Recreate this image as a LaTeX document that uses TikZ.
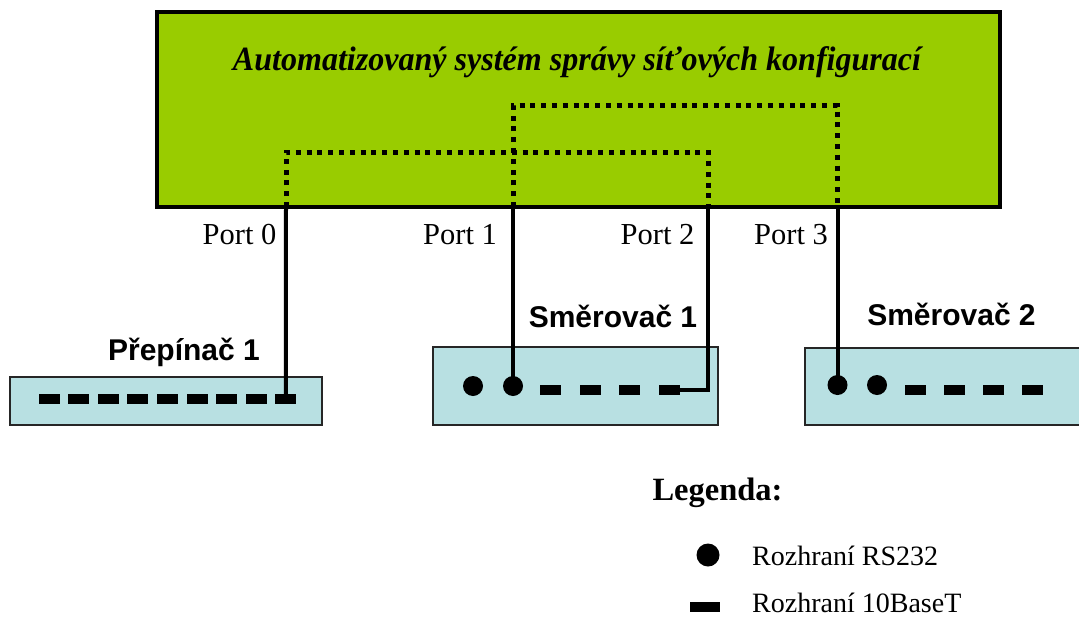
\documentclass[tikz,border=0pt]{standalone}
\usepackage{fontspec}
\usepackage{graphicx}
\setmainfont{Liberation Serif}
\newfontfamily\labelsans{Liberation Sans}
\definecolor{sysgreen}{RGB}{153,204,0}
\definecolor{devblue}{RGB}{184,224,226}
\tikzset{
  sysbox/.style={draw=black, line width=3.5pt, fill=sysgreen, rectangle, inner sep=0pt},
  devbox/.style={draw=black!85, line width=1.5pt, fill=devblue, rectangle, inner sep=0pt},
  eth/.style={fill=black, rectangle, inner sep=0pt, minimum width=21pt, minimum height=10pt},
  rs/.style={fill=black, circle, inner sep=0pt, minimum size=20pt},
  wire/.style={line width=4pt},
  link/.style={line width=5pt, dash pattern=on 5pt off 5.8pt},
  portlbl/.style={font=\fontsize{30.5}{34}\selectfont, anchor=base, inner sep=0pt},
  devlbl/.style={font=\labelsans\bfseries\fontsize{30}{34}\selectfont, anchor=base, inner sep=0pt},
  legtxt/.style={font=\fontsize{28}{32}\selectfont, anchor=base west, inner sep=0pt}
}
\begin{document}
\begin{tikzpicture}[x=1pt, y=-1pt]
\clip (0,0) rectangle (1079,616);
\fill[white] (0,0) rectangle (1079,616);

% management system
\node[sysbox, minimum width=843pt, minimum height=195pt] (sys) at (578.5,109.5) {};
\node[anchor=base, inner sep=0pt] (title) at (577,70)
  {\resizebox{688pt}{\height}{\fontsize{34}{38}\selectfont\bfseries\itshape Automatizovaný systém správy síťových konfigurací}};

% ports on the lower edge of the system box
\coordinate (p0) at (286,207);
\coordinate (p1) at (513,207);
\coordinate (p2) at (708,207);
\coordinate (p3) at (837.5,207);
\coordinate (lowbar) at (0,152);
\coordinate (highbar) at (0,105.5);

% internal cross-connections
\draw[link] (p0) -- (p0 |- lowbar) -| (p2);
\draw[link] (p1) -- (p1 |- highbar) -| (p3);

% port labels
\node[portlbl] (l0) at (239.5,244) {Port 0};
\node[portlbl] (l1) at (460,244) {Port 1};
\node[portlbl] (l2) at (657.5,244) {Port 2};
\node[portlbl] (l3) at (791,244) {Port 3};

% switch
\node[devbox, minimum width=312pt, minimum height=48pt] (sw) at (166,401) {};
\node[devlbl] (swname) at (184,360) {Přepínač 1};
\foreach \i in {1,...,9} {
  \node[eth] (sw\i) at ({49+(\i-1)*29.6},399) {};
}

% router 1
\node[devbox, minimum width=285pt, minimum height=78pt] (ra) at (575.5,386) {};
\node[devlbl] (raname) at (613,327) {Směrovač 1};
\node[rs] (raA) at (473,386) {};
\node[rs] (raB) at (513,386) {};
\foreach \i in {1,...,4} {
  \node[eth] (rae\i) at ({550.5+(\i-1)*39.5},390) {};
}

% router 2
\node[devbox, minimum width=285pt, minimum height=77pt] (rb) at (947.5,386.5) {};
\node[devlbl] (rbname) at (951.5,325) {Směrovač 2};
\node[rs] (rbA) at (837.5,385) {};
\node[rs] (rbB) at (877,385) {};
\foreach \i in {1,...,4} {
  \node[eth] (rbe\i) at ({915+(\i-1)*39.3},390) {};
}

% cabling
\draw[wire] (p0) -- (sw9.center);
\draw[wire] (p1) -- (raB.center);
\draw[wire] (p2) |- (rae4.east);
\draw[wire] (p3) -- (rbA.center);

% legend
\node[anchor=base, inner sep=0pt, font=\fontsize{32.5}{36}\selectfont\bfseries] (legend) at (717.5,500) {Legenda:};
\node[rs, minimum size=23pt] (legrs) at (708,555) {};
\node[legtxt] (legrstxt) at (752,565) {Rozhraní RS232};
\node[eth, minimum width=30pt, minimum height=10pt] (legeth) at (705,607) {};
\node[legtxt] (legethtxt) at (752,612) {Rozhraní 10BaseT};
\end{tikzpicture}
\end{document}
